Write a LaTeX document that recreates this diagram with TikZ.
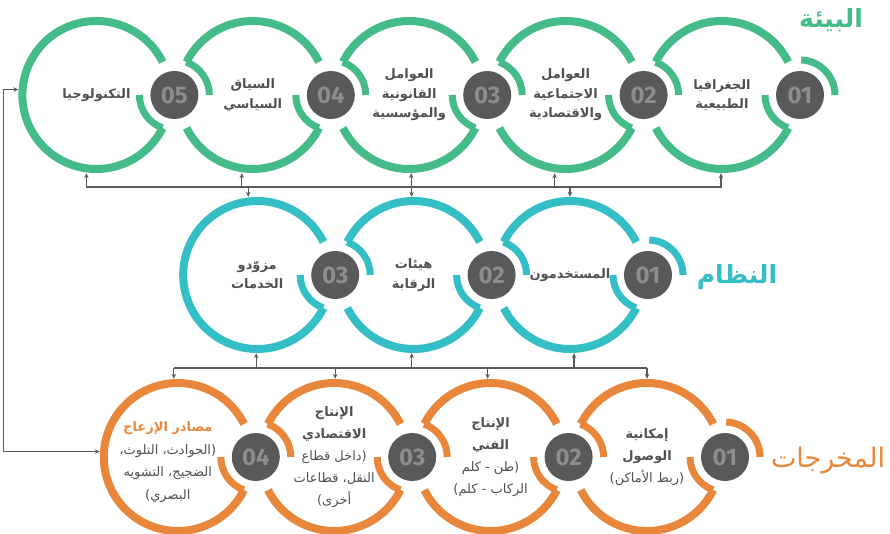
\documentclass[tikz,border=0pt]{standalone}
\usepackage{fontspec}
\usepackage{tikz}
\usetikzlibrary{
	arrows.meta,
	positioning
}
\newfontfamily\arfont[Script=Arabic]{DejaVu Sans}
\newfontfamily\numfont{Fira Sans}
\TeXXeTstate=1

\definecolor{EnvGreen}{RGB}{69,187,137}
\definecolor{SysCyan}{RGB}{52,190,198}
\definecolor{OutOrange}{RGB}{232,135,60}
\definecolor{DiscGray}{RGB}{88,89,91}
\definecolor{NumGray}{RGB}{140,141,143}
\definecolor{TextGray}{RGB}{80,80,82}
\definecolor{LineGray}{RGB}{90,90,92}

\newcommand{\rtl}[1]{\beginR #1\endR}
% ring open on both sides (#1 ring node, #2 colour)
\newcommand{\openring}[2]{
	\draw[#2, line width=8pt] (#1.center) ++(26.5:74pt) arc[start angle=26.5, end angle=153.5, radius=74pt];
	\draw[#2, line width=8pt] (#1.center) ++(206.5:74pt) arc[start angle=206.5, end angle=333.5, radius=74pt];
}
% last ring of a row, open on the right only
\newcommand{\lastring}[2]{
	\draw[#2, line width=8pt] (#1.center) ++(26.5:74pt) arc[start angle=26.5, end angle=333.5, radius=74pt];
}
% the two short arcs round a number disc (#3 end of the upper arc)
\newcommand{\discarcs}[3]{
	\draw[#2, line width=7pt] (#1.center) ++(0:35pt) arc[start angle=0, end angle=#3, radius=35pt];
	\draw[#2, line width=7pt] (#1.center) ++(180:35pt) arc[start angle=180, end angle=250, radius=35pt];
}

\tikzset{
	ringnode/.style={circle, minimum size=156pt, inner sep=0pt, align=center, text=TextGray,
		font=\arfont\bfseries\fontsize{13}{19.5}\selectfont},
	outnode/.style={ringnode, font=\arfont\bfseries\fontsize{13}{22}\selectfont},
	numdisc/.style={circle, fill=DiscGray, minimum size=48pt, inner sep=0pt, text=NumGray,
		font=\numfont\bfseries\fontsize{24}{24}\selectfont},
	rowtitle/.style={font=\arfont\bfseries\fontsize{25}{30}\selectfont},
	link/.style={draw=LineGray, line width=1.2pt},
	>={Stealth[length=5pt,width=4.5pt]}
}

\begin{document}
\begin{tikzpicture}[x=1pt, y=1pt]
	\useasboundingbox (0,0) rectangle (890,533);
	
	% environment row
	\node[numdisc] (E1) at (800,438) {01};
	\node[numdisc, left=108pt of E1] (E2) {02};
	\node[numdisc, left=108pt of E2] (E3) {03};
	\node[numdisc, left=108pt of E3] (E4) {04};
	\node[numdisc, left=108pt of E4] (E5) {05};
	\node[ringnode] (env1) at ([xshift=-78pt]E1.center) {\rtl{الجغرافيا}\\\rtl{الطبيعية}};
	\node[ringnode] (env2) at ([xshift=-78pt]E2.center) {\rtl{العوامل}\\\rtl{الاجتماعية}\\\rtl{والاقتصادية}};
	\node[ringnode] (env3) at ([xshift=-78pt]E3.center) {\rtl{العوامل}\\\rtl{القانونية}\\\rtl{والمؤسسية}};
	\node[ringnode] (env4) at ([xshift=-78pt]E4.center) {\rtl{السياق}\\\rtl{السياسي}};
	\node[ringnode] (env5) at ([xshift=-78pt]E5.center) {\rtl{التكنولوجيا}};
	\openring{env1}{EnvGreen} \openring{env2}{EnvGreen} \openring{env3}{EnvGreen} \openring{env4}{EnvGreen}
	\lastring{env5}{EnvGreen}
	\discarcs{E1}{EnvGreen}{88} \discarcs{E2}{EnvGreen}{70} \discarcs{E3}{EnvGreen}{70}
	\discarcs{E4}{EnvGreen}{70} \discarcs{E5}{EnvGreen}{70}
	\node[rowtitle, text=EnvGreen] (envtitle) at (831,513) {\rtl{البيئة}};
	
	% system row
	\node[numdisc] (S1) at (648,258) {01};
	\node[numdisc, left=108pt of S1] (S2) {02};
	\node[numdisc, left=108pt of S2] (S3) {03};
	\node[ringnode] (sys1) at ([xshift=-78pt]S1.center) {\rtl{المستخدمون}};
	\node[ringnode] (sys2) at ([xshift=-78pt]S2.center) {\rtl{هيئات}\\\rtl{الرقابة}};
	\node[ringnode] (sys3) at ([xshift=-78pt]S3.center) {\rtl{مزوّدو}\\\rtl{الخدمات}};
	\openring{sys1}{SysCyan} \openring{sys2}{SysCyan}
	\lastring{sys3}{SysCyan}
	\discarcs{S1}{SysCyan}{88} \discarcs{S2}{SysCyan}{70} \discarcs{S3}{SysCyan}{70}
	\node[rowtitle, text=SysCyan] (systitle) at (737,256) {\rtl{النظام}};
	
	% outputs row
	\node[numdisc] (O1) at (725,76) {01};
	\node[numdisc, left=108pt of O1] (O2) {02};
	\node[numdisc, left=108pt of O2] (O3) {03};
	\node[numdisc, left=108pt of O3] (O4) {04};
	\node[outnode] (out1) at ([xshift=-78pt]O1.center)
		{\rtl{إمكانية}\\\rtl{الوصول}\\{\mdseries\rtl{(ربط الأماكن)}}};
	\node[outnode] (out2) at ([xshift=-78pt]O2.center)
		{\rtl{الإنتاج}\\\rtl{الفني}\\{\mdseries\rtl{(طن - كلم}}\\{\mdseries\rtl{الركاب - كلم)}}};
	\node[outnode] (out3) at ([xshift=-78pt]O3.center)
		{\rtl{الإنتاج}\\\rtl{الاقتصادي}\\{\mdseries\rtl{(داخل قطاع}}\\{\mdseries\rtl{النقل، قطاعات}}\\{\mdseries\rtl{أخرى)}}};
	% text of the last ring sits a little left of the ring centre
	\node[outnode, font=\arfont\fontsize{13}{22.5}\selectfont] (out4) at ([xshift=-88pt,yshift=-5pt]O4.center)
		{{\bfseries\color{OutOrange}\rtl{مصادر الإزعاج}}\\\rtl{(الحوادث، التلوث،}\\\rtl{الضجيج، التشويه}\\\rtl{البصري)}};
	\openring{out1}{OutOrange} \openring{out2}{OutOrange} \openring{out3}{OutOrange}
	\lastring{[xshift=10pt,yshift=5pt]out4}{OutOrange}
	\discarcs{O1}{OutOrange}{88} \discarcs{O2}{OutOrange}{70} \discarcs{O3}{OutOrange}{70} \discarcs{O4}{OutOrange}{70}
	\node[rowtitle, text=OutOrange, font=\arfont\fontsize{27}{30}\selectfont] (outtitle) at (828,72) {\rtl{المخرجات}};
	
	% bus between environment and system
	\coordinate (busT) at (0,346);
	\draw[link] ([xshift=-10pt]env5.south |- busT) -- (env1.south |- busT);
	\foreach \n/\dx in {env5/-10, env4/-11, env3/2, env2/-11, env1/-1}
		\draw[link, ->] ([xshift=\dx pt]\n.south |- busT) -- ([xshift=\dx pt]\n.south);
	\foreach \n/\dx in {sys3/-9, sys2/-2, sys1/0}
		\draw[link, ->] ([xshift=\dx pt]\n.north |- busT) -- ([xshift=\dx pt]\n.north);
	
	% bus between system and outputs
	\coordinate (busB) at (0,165);
	\draw[link] ([xshift=6pt]out4.north |- busB) -- (out1.north |- busB);
	\foreach \n/\dx in {sys3/-1, sys2/-2, sys1/4}
		\draw[link, ->] ([xshift=\dx pt]\n.south |- busB) -- ([xshift=\dx pt]\n.south);
	\foreach \n/\dx in {out3/1, out2/-3, out1/0}
		\draw[link, ->] ([xshift=\dx pt]\n.north |- busB) -- ([xshift=\dx pt]\n.north);
	\draw[link, ->] ([xshift=6pt]out4.north |- busB) -- ([xshift=6pt,yshift=5pt]out4.north);
	
	% feedback from outputs to technology
	\draw[link, <->] (env5.176) -- ++(-15pt,0) |- ([xshift=10pt,yshift=5pt]out4.176);
\end{tikzpicture}
\end{document}
